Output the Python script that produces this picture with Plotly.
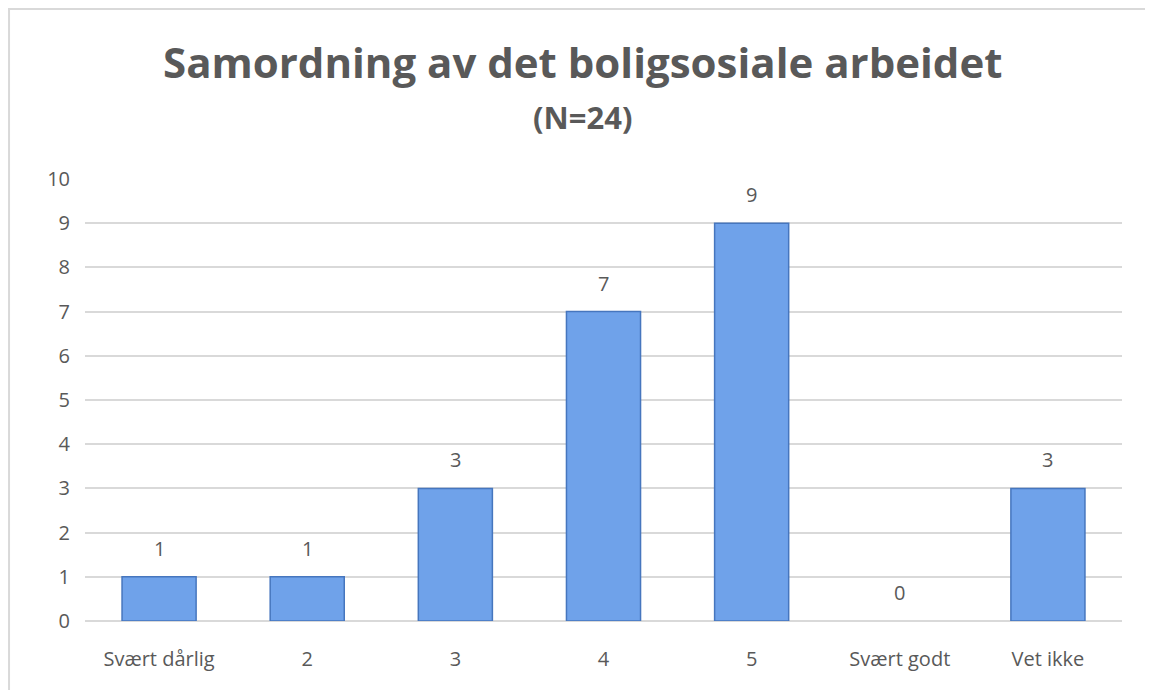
import plotly.graph_objects as go

categories = ["Svært dårlig", "2", "3", "4", "5", "Svært godt", "Vet ikke"]
values = [1, 1, 3, 7, 9, 0, 3]
y_ticks = list(range(0, 11))

title_text = "Samordning av det boligsosiale arbeidet"
subtitle_text = "(N=24)"

FONT = "Open Sans, Lato, sans-serif"
GRAY = "#595959"

# figure is rendered with an 8px page margin
W, H = 1145, 682
L, R, T, B = 77, 31, 171, 69
PW, PH = W - L - R, H - T - B

fig = go.Figure()
fig.add_trace(go.Bar(
    x=categories,
    y=values,
    width=0.5,
    marker=dict(color="#6FA2EA",
                line=dict(color="#4676BE", width=[1.5 if v > 0 else 0 for v in values])),
    cliponaxis=False,
    hoverinfo="x+y",
))

annotations = [
    dict(x=i, y=v, xref="x", yref="y", text=str(v), showarrow=False,
         yanchor="bottom", yshift=13,
         font=dict(family=FONT, size=20, color=GRAY))
    for i, v in enumerate(values)
]
annotations += [
    dict(text="<b>" + title_text + "</b>", xref="paper", yref="paper",
         x=(574 - L) / PW, y=1, yshift=118, xanchor="center", yanchor="middle",
         showarrow=False, font=dict(family=FONT, size=42, color=GRAY)),
    dict(text="<b>" + subtitle_text + "</b>", xref="paper", yref="paper",
         x=(574 - L) / PW, y=1, yshift=62, xanchor="center", yanchor="middle",
         showarrow=False, font=dict(family=FONT, size=31, color=GRAY)),
]

fig.update_layout(
    width=W, height=H,
    paper_bgcolor="white", plot_bgcolor="white",
    margin=dict(l=L, r=R, t=T, b=B),
    showlegend=False,
    font=dict(family=FONT, color=GRAY),
    xaxis=dict(
        type="category",
        automargin=False,
        tickfont=dict(size=20, color=GRAY),
        showgrid=False, showline=False, ticks="",
        ticklabelstandoff=24,
    ),
    yaxis=dict(
        range=[0, 10],
        automargin=False,
        tickvals=y_ticks,
        tickfont=dict(size=20, color=GRAY),
        showgrid=True, gridcolor="#D9D9D9", gridwidth=1.5,
        zeroline=True, zerolinecolor="#D9D9D9", zerolinewidth=1.5,
        showline=False, ticks="",
        ticklabelstandoff=14,
    ),
    annotations=annotations,
    shapes=[
        dict(type="line", xref="paper", yref="paper",
             x0=-L / PW + 0.001, x1=-L / PW + 0.001, y0=-B / PH, y1=1 + T / PH,
             line=dict(color="#D9D9D9", width=2)),
        dict(type="line", xref="paper", yref="paper",
             x0=-L / PW, x1=1 + R / PW, y0=1 + (T - 1) / PH, y1=1 + (T - 1) / PH,
             line=dict(color="#D9D9D9", width=2)),
    ],
)

fig.write_html("out.html")
